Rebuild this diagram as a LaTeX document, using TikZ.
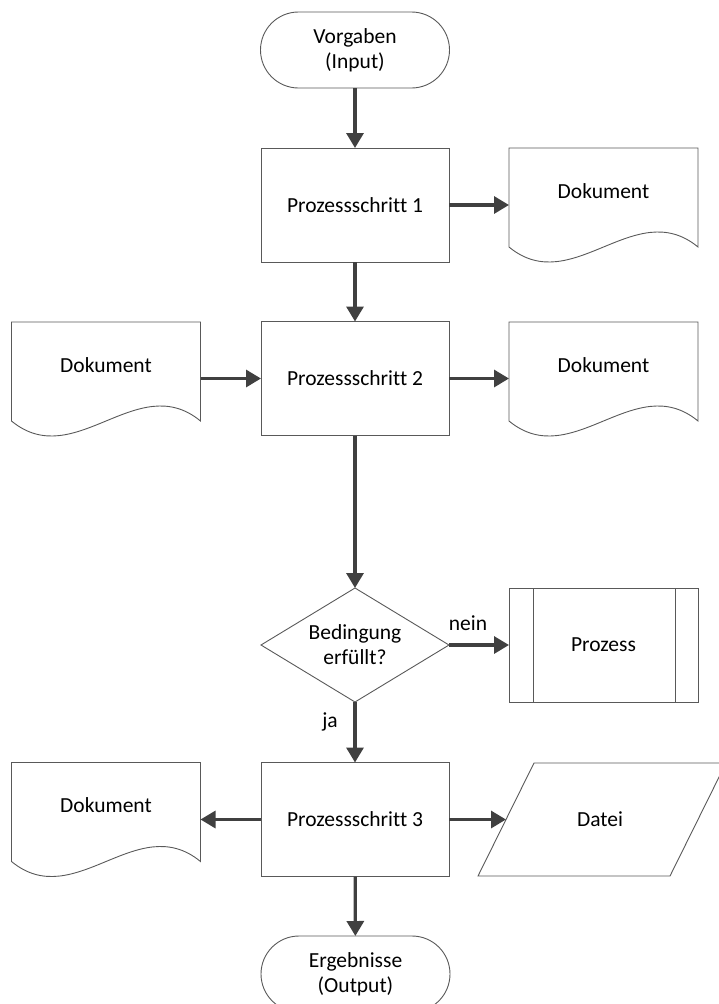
\documentclass[tikz,border=0pt]{standalone}
\usepackage{fontspec}
\setmainfont{Carlito}[Ligatures={NoCommon}]
\usetikzlibrary{arrows.meta,shapes.geometric,calc}

\definecolor{shapeline}{HTML}{595959}
\definecolor{flowline}{HTML}{404040}

\tikzset{
  lbl/.style={font=\fontsize{21.5}{25}\selectfont, align=center, text=black},
  stepbox/.style={draw=shapeline, line width=0.9pt, rectangle, inner sep=0pt, outer sep=0pt,
    minimum width=188pt, minimum height=114pt, lbl},
  terminal/.style={draw=shapeline, line width=0.9pt, rectangle, rounded corners=38pt,
    inner sep=0pt, outer sep=0pt, minimum width=189pt, minimum height=76pt, lbl},
  docarea/.style={rectangle, inner sep=0pt, outer sep=0pt, minimum width=189pt, minimum height=99pt},
  docline/.style={draw=shapeline, line width=0.9pt},
  decision/.style={draw=shapeline, line width=0.9pt, diamond, aspect=1.65, inner sep=0pt,
    outer sep=0pt, minimum width=188pt, minimum height=114pt, lbl},
  flow/.style={draw=flowline, line width=3.2pt, -{Triangle[length=15pt,width=17pt]}},
}

% document symbol: straight-sided box with a wavy lower edge
\newcommand{\docshape}[1]{%
  \draw[docline] (#1.south west) -- (#1.north west) -- (#1.north east) -- (#1.south east)
    .. controls ($(#1.south east)+(-63,-52)$) and ($(#1.south west)+(63,52)$) .. (#1.south west);
}

\begin{document}
\begin{tikzpicture}[x=1pt,y=-1pt]
\useasboundingbox (0,0) rectangle (718,1004);

% start / end
\node[terminal] (start) at (355,50) {Vorgaben\\(Input)};
\node[terminal] (stop) at (355.5,974) {Ergebnisse\\(Output)};

% process steps
\node[stepbox] (s1) at (355,205) {Prozessschritt 1};
\node[stepbox] (s2) at (355,378.5) {Prozessschritt 2};
\node[stepbox] (s3) at (355,819.5) {Prozessschritt 3};

% documents
\node[docarea] (d1) at (603.5,197.5) {};
\docshape{d1}
\node[lbl] (d1t) at (603.5,191) {Dokument};

\node[docarea] (d2) at (106,371.5) {};
\docshape{d2}
\node[lbl] (d2t) at (106,365) {Dokument};

\node[docarea] (d3) at (603.5,371.5) {};
\docshape{d3}
\node[lbl] (d3t) at (603.5,365) {Dokument};

\node[docarea] (d4) at (106,812) {};
\docshape{d4}
\node[lbl] (d4t) at (106,805) {Dokument};

% decision
\node[decision] (q) at (355,645) {Bedingung\\erfüllt?};

% predefined process
\node[stepbox, minimum width=189pt] (p) at (603.5,645) {Prozess};
\draw[shapeline, line width=0.9pt] ($(p.north west)+(24,0)$) -- ($(p.south west)+(24,0)$);
\draw[shapeline, line width=0.9pt] ($(p.north east)+(-23,0)$) -- ($(p.south east)+(-23,0)$);

% data (parallelogram)
\coordinate (f1) at (478,876);
\coordinate (f2) at (534,763);
\coordinate (f3) at (726,763);
\coordinate (f4) at (670,876);
\draw[docline] (f1) -- (f2) -- (f3) -- (f4) -- cycle;
\node[lbl] (ft) at (600,819.5) {Datei};
\coordinate (fin) at ($(f1)!0.5!(f2)$);

% connectors
\draw[flow] (start) -- (s1);
\draw[flow] (s1) -- (s2);
\draw[flow] (s1.east) -- (s1.east -| d1.west);
\draw[flow] (d2.east |- s2.east) -- (s2.west);
\draw[flow] (s2.east) -- (s2.east -| d3.west);
\draw[flow] (s2) -- (q);
\draw[flow] (q.east) -- (p.west);
\draw[flow] (q) -- (s3);
\draw[flow] (s3.west) -- (s3.west -| d4.east);
\draw[flow] (s3.east) -- (fin);
\draw[flow] (s3) -- (stop);

% branch labels
\node[lbl] (nein) at (468,623) {nein};
\node[lbl] (ja) at (330,722) {ja};
\end{tikzpicture}
\end{document}
